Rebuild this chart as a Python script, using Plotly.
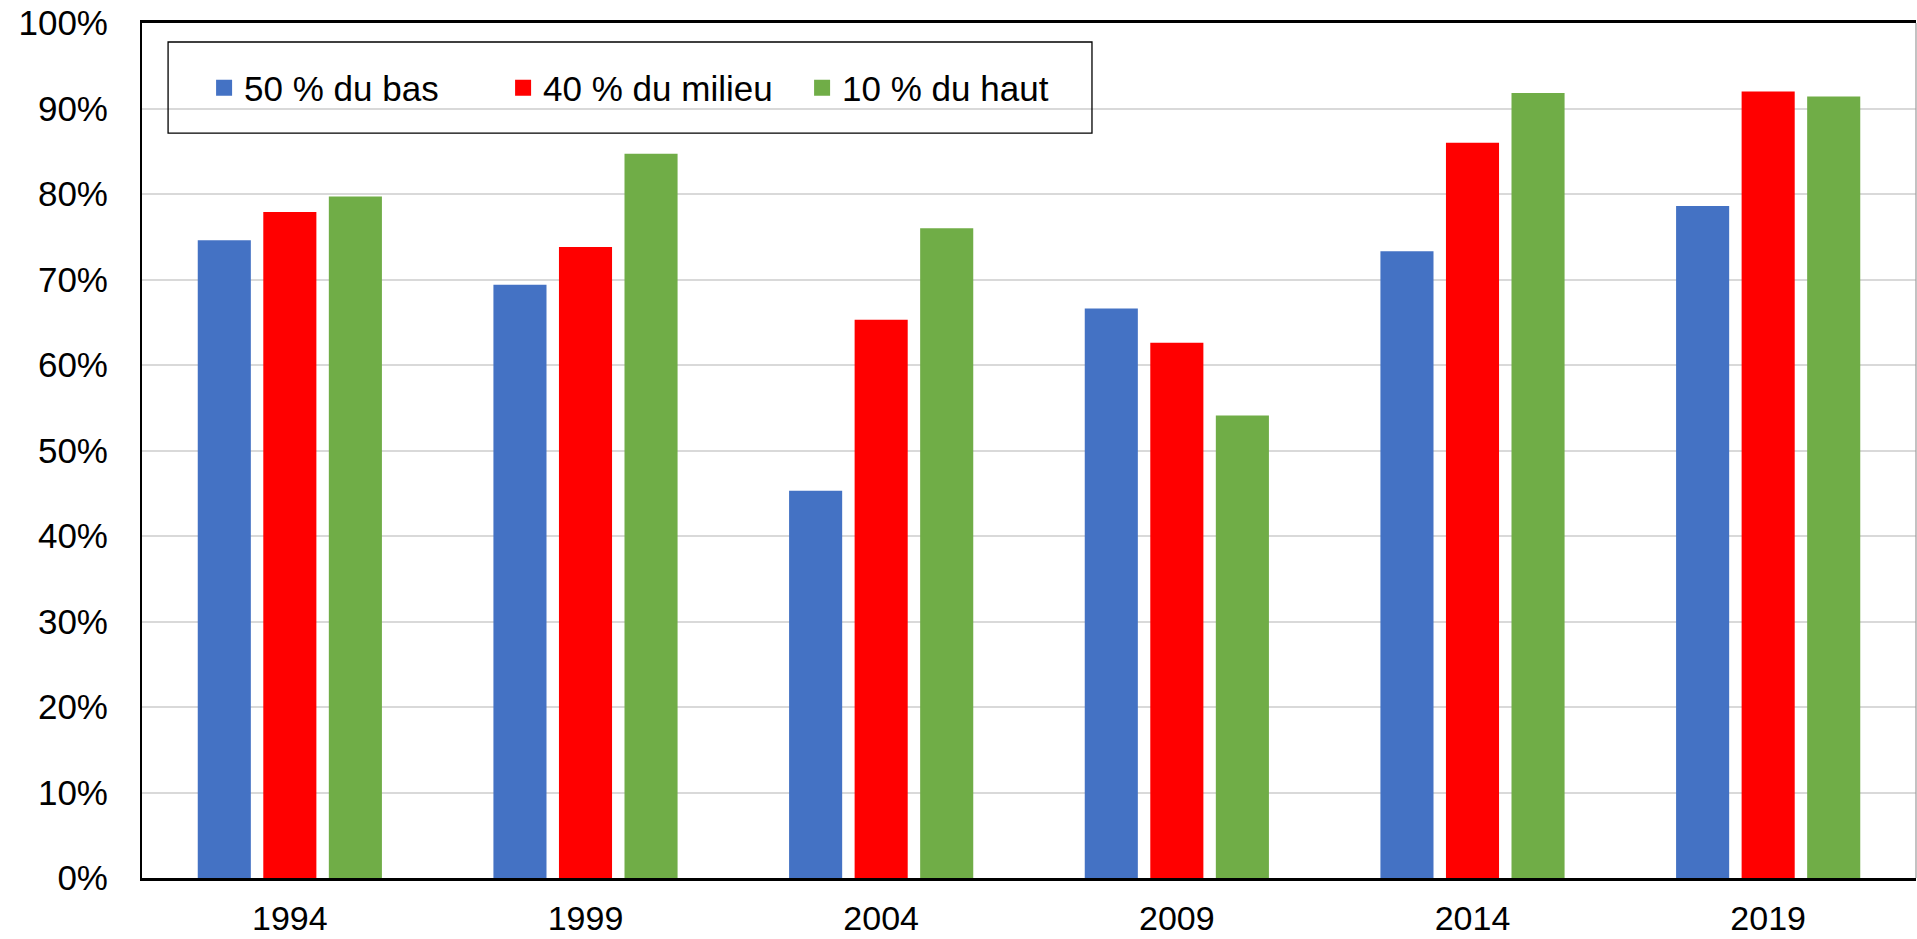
import plotly.graph_objects as go

# Survey years and share (%) for each income group
years = ["1994", "1999", "2004", "2009", "2014", "2019"]
bas_50 = [74.6, 69.4, 45.3, 66.6, 73.3, 78.6]
milieu_40 = [77.9, 73.8, 65.3, 62.6, 86.0, 92.0]
haut_10 = [79.7, 84.7, 76.0, 54.1, 91.8, 91.4]

series_names = ["50 % du bas", "40 % du milieu", "10 % du haut"]
series_values = [bas_50, milieu_40, haut_10]
series_colors = ["#4472C4", "#FF0000", "#70AD47"]

y_ticks = list(range(0, 101, 10))
y_tick_labels = [f"{v}%" for v in y_ticks]

FONT = "Liberation Sans, Arial, sans-serif"

fig = go.Figure()

for name, vals, color in zip(series_names, series_values, series_colors):
    fig.add_trace(go.Bar(
        x=years, y=vals, name=name, legendgroup=name,
        marker=dict(color=color, line=dict(width=0)),
        showlegend=False,
        hovertemplate="%{x}: %{y:.1f}%<extra>" + name + "</extra>",
    ))

# Legend entries with larger square swatches
for name, color in zip(series_names, series_colors):
    fig.add_trace(go.Scatter(
        x=[None], y=[None], mode="markers", name=name, legendgroup=name,
        marker=dict(symbol="square", size=20, color=color),
        showlegend=True, hoverinfo="skip",
    ))

fig.update_layout(
    width=1917, height=939,
    margin=dict(l=142, r=1, t=23, b=61),
    paper_bgcolor="white", plot_bgcolor="white",
    font=dict(family=FONT, color="black"),
    barmode="group", bargap=0.335, bargroupgap=0.19,
    showlegend=True,
    legend=dict(
        orientation="h", x=0.035, xanchor="left", y=0.924, yanchor="middle",
        bgcolor="rgba(0,0,0,0)", borderwidth=0,
        font=dict(family=FONT, size=35, color="black"),
        entrywidth=254, itemsizing="trace",
    ),
    shapes=[
        # legend frame
        dict(type="rect", xref="paper", yref="paper",
             x0=0.0147, x1=0.5355, y0=0.8713, y1=0.9778,
             line=dict(color="black", width=1.3), fillcolor="rgba(0,0,0,0)", layer="above"),
        # right border of the plot area
        dict(type="line", xref="paper", yref="paper", x0=1, x1=1, y0=0, y1=1,
             line=dict(color="#9a9a9a", width=1.2)),
    ],
)

fig.update_xaxes(
    type="category", showgrid=False, automargin=False,
    showline=True, linecolor="black", linewidth=2.5, mirror=True,
    ticks="", ticklabelstandoff=8,
    tickfont=dict(family=FONT, size=34, color="black"),
)

fig.update_yaxes(
    range=[0, 100], tickvals=y_ticks, ticktext=y_tick_labels, automargin=False,
    showgrid=True, gridcolor="#d9d9d9", gridwidth=1.5,
    showline=True, linecolor="black", linewidth=2,
    zeroline=False, ticks="", ticklabelstandoff=25,
    tickfont=dict(family=FONT, size=35, color="black"),
)

fig.write_html("out.html")
